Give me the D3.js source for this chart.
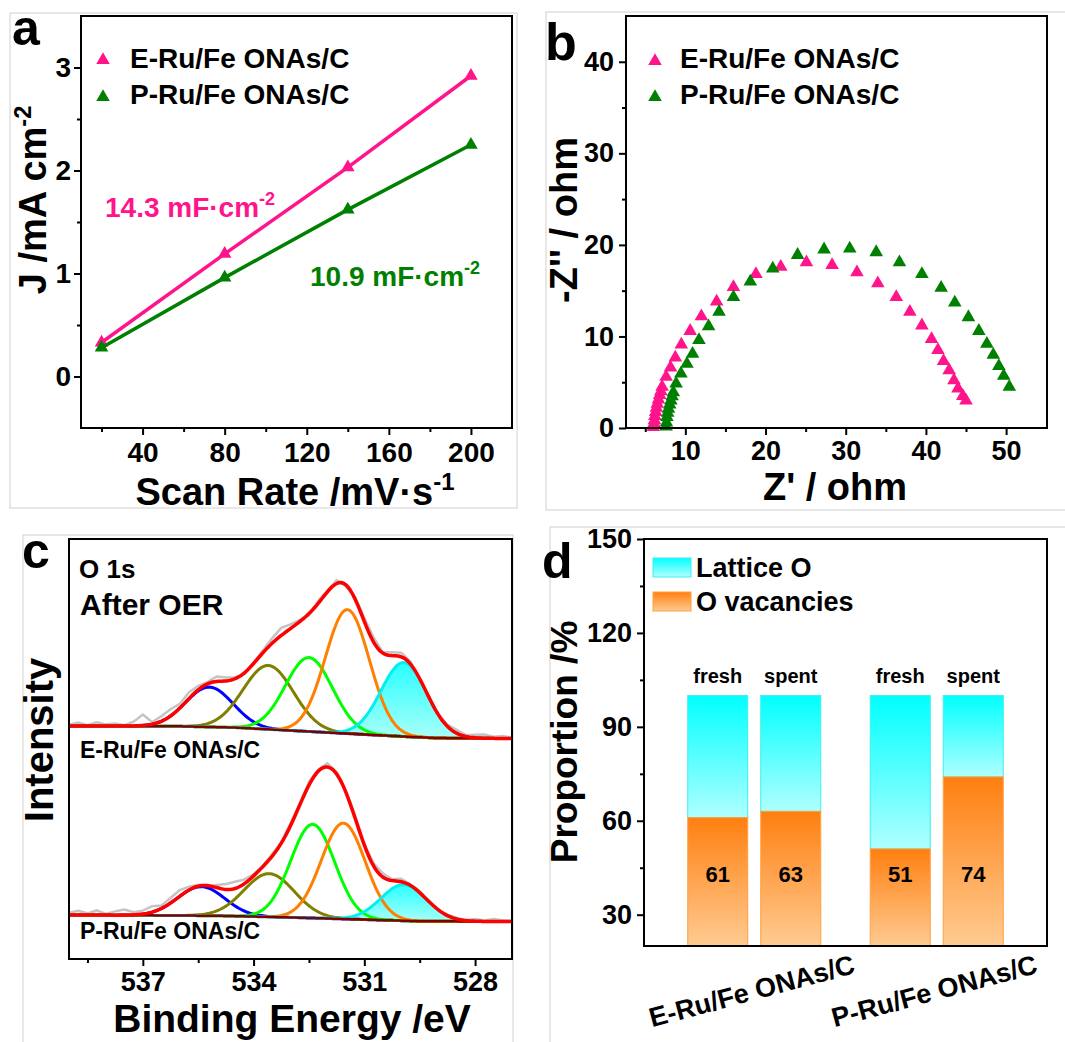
<!DOCTYPE html>
<html>
<head>
<meta charset="utf-8">
<script src="https://cdn.jsdelivr.net/npm/d3@7"></script>
<style>
  body { margin: 0; background: #fff; }
  svg text { font-family: "Liberation Sans", Arial, sans-serif; font-weight: bold; }
</style>
</head>
<body>
<svg id="fig" width="1065" height="1042"></svg>
<script>
// ---------- data ----------
var sampleNames = ["E-Ru/Fe ONAs/C", "P-Ru/Fe ONAs/C"];

// (a) current density vs scan rate
var scanRates = [20, 80, 140, 200];
var currentE = [0.33, 1.19, 2.03, 2.92];
var currentP = [0.28, 0.96, 1.62, 2.25];
var cdlValues = ["14.3", "10.9"];

// (b) Nyquist plots, [Z', -Z'']
var nyquistE = [[6.0,0.1],[6.1,0.5],[6.15,0.85],[6.2,1.3],[6.3,1.75],[6.4,2.2],[6.5,2.65],[6.65,3.1],
  [6.8,3.6],[6.95,4.0],[7.1,4.5],[7.6,5.6],[8.15,6.6],[8.75,7.7],[9.5,9.1],[10.6,10.6],[12.0,12.2],
  [13.9,13.8],[16.0,15.4],[18.8,16.8],[21.9,17.6],[25.1,18.1],[28.3,17.8],[31.4,17.0],[34.0,15.8],
  [36.3,14.3],[38.0,12.7],[39.5,11.2],[40.7,9.7],[41.5,8.5],[42.2,7.3],[42.9,6.3],[43.5,5.2],
  [44.0,4.3],[44.6,3.5],[45.0,3.0]];
var nyquistP = [[7.6,0.15],[7.65,0.6],[7.7,1.2],[7.8,1.65],[7.9,2.1],[8.05,2.55],[8.2,3.0],[8.35,3.45],
  [8.5,3.9],[8.85,4.85],[9.45,5.95],[10.2,7.0],[10.9,8.1],[11.7,9.6],[12.9,11.1],[14.2,12.7],
  [16.0,14.3],[18.1,16.0],[20.9,17.4],[24.0,18.9],[27.3,19.5],[30.5,19.6],[33.8,19.2],[36.7,18.1],
  [39.5,16.8],[41.9,15.3],[43.6,13.7],[45.3,12.1],[46.6,10.6],[47.6,9.2],[48.4,8.0],[49.1,6.75],
  [49.7,5.7],[50.4,4.5]];

// (c) O 1s fitted peaks: [centre eV, height, FWHM], order blue, olive, green, orange, cyan
var peaksE = [[535.2, 9.5, 1.5], [533.6, 15.2, 1.6], [532.5, 17.6, 1.5], [531.46, 29.5, 1.4], [529.93, 17.6, 1.45]];
var peaksP = [[535.42, 6.9, 1.5], [533.58, 10.3, 1.6], [532.4, 22.3, 1.4], [531.57, 22.8, 1.4], [529.93, 8.6, 1.45]];
var backgroundE = [[539,55.5],[536,55.4],[534.5,55.1],[533,54.4],[531.5,53.7],[530,53.0],[529,52.6],[527,52.5]];
var backgroundP = [[539,10.5],[535,10.3],[533,9.9],[531,9.4],[529.5,9.0],[527,8.9]];
// raw counts minus fit, every 0.25 eV from 539 down to 527
var residualE = [0.3,0.8,0.2,0.9,0.4,0.6,0.2,1.0,2.6,0.5,1.2,1.6,1.0,1.5,0.9,0.4,1.2,0.8,0.3,-0.3,0.2,0.6,1.2,1.8,1.0,
  0.4,-0.5,0.6,0.3,0.8,-0.4,0.5,0.9,1.1,0.2,0.8,1.0,0.6,-0.3,0.2,0.1,0.4,0.8,0.3,0.7,0.9,0.4,0.6,0.2];
var residualP = [0.5,1.0,0.4,1.1,0.3,0.9,1.3,0.6,0.8,1.4,0.7,1.2,1.5,0.8,0.3,-0.2,0.6,1.3,1.6,1.0,0.4,0.2,0.5,0.3,0.6,
  0.2,0.8,0.4,0.9,0.5,0.3,0.7,0.4,0.6,0.9,0.3,0.7,0.2,0.4,0.1,-0.1,0.2,0.3,0.1,0.5,0.2,0.6,0.3,0.2];
var peakColors = ["#0000ff", "#808000", "#00ff00", "#ff8000", "#00f0f0"];

// (d) oxygen species proportions
var states = ["fresh", "spent"];
var vacancyPct = [61, 63, 51, 74];
var latticePct = [39, 37, 49, 26];

var pink = "#ff148c", green = "#008000";
var svg = d3.select("#fig");

// gradients
var defs = svg.append("defs");
function grad(id, top, bottom) {
  var g = defs.append("linearGradient").attr("id", id).attr("x1", 0).attr("y1", 0).attr("x2", 0).attr("y2", 1);
  g.append("stop").attr("offset", "0%").attr("stop-color", top);
  g.append("stop").attr("offset", "100%").attr("stop-color", bottom);
}
grad("gOrange", "#ff7f10", "#ffcb92");
grad("gCyan", "#00ffff", "#b0ffff");
grad("gCyanFill", "#10ffff", "#9ffff8");

// light panel borders
[[10,13,507,495],[546,12,540,498],[23,535,490,520],[550,527,530,520]].forEach(function (r) {
  svg.append("rect").attr("x", r[0]).attr("y", r[1]).attr("width", r[2]).attr("height", r[3])
    .attr("fill", "none").attr("stroke", "#d0d0d0").attr("stroke-width", 1);
});

function styleAxis(g, fs) {
  g.select(".domain").remove();
  g.selectAll("line").attr("stroke", "#000").attr("stroke-width", 2);
  g.selectAll("text").attr("font-size", fs).attr("fill", "#000");
}
function frame(x0, y0, x1, y1) {
  svg.append("rect").attr("x", x0).attr("y", y0).attr("width", x1 - x0).attr("height", y1 - y0)
    .attr("fill", "none").attr("stroke", "#000").attr("stroke-width", 2);
}
function label(txt, x, y, fs, opts) {
  var t = svg.append("text").attr("x", x).attr("y", y).attr("font-size", fs).text(txt);
  if (opts && opts.anchor) t.attr("text-anchor", opts.anchor);
  if (opts && opts.fill) t.attr("fill", opts.fill);
  return t;
}
function rotLabel(txt, x, y, fs, sup) {
  var t = svg.append("text").attr("transform", "translate(" + x + "," + y + ") rotate(-90)")
    .attr("text-anchor", "middle").attr("font-size", fs).text(txt);
  if (sup) t.append("tspan").attr("font-size", fs * 0.62).attr("dy", -fs * 0.4).text(sup);
  return t;
}
var tri = d3.symbol().type(d3.symbolTriangle).size(80);
var intFmt = d3.format("d");

// ================= (a) =================
var ax = { l: 81, r: 512, t: 16, b: 428 };
var xA = d3.scaleLinear().domain([10, 220]).range([ax.l, ax.r]);
var yA = d3.scaleLinear().domain([-0.5, 3.5]).range([ax.b, ax.t]);

styleAxis(svg.append("g").attr("transform", "translate(0," + ax.b + ")")
  .call(d3.axisBottom(xA).tickValues([40, 80, 120, 160, 200]).tickSize(7).tickPadding(7)), 28);
styleAxis(svg.append("g").attr("transform", "translate(0," + ax.b + ")")
  .call(d3.axisBottom(xA).tickValues([20, 60, 100, 140, 180]).tickSize(4).tickFormat("")), 28);
styleAxis(svg.append("g").attr("transform", "translate(" + ax.l + ",0)")
  .call(d3.axisLeft(yA).tickValues([0, 1, 2, 3]).tickFormat(intFmt).tickSize(7).tickPadding(3)), 28);
styleAxis(svg.append("g").attr("transform", "translate(" + ax.l + ",0)")
  .call(d3.axisLeft(yA).tickValues([0.5, 1.5, 2.5]).tickSize(4).tickFormat("")), 28);

[[currentE, pink], [currentP, green]].forEach(function (s) {
  var pts = scanRates.map(function (v, i) { return [v, s[0][i]]; });
  svg.append("path").datum(pts)
    .attr("d", d3.line().x(function (d) { return xA(d[0]); }).y(function (d) { return yA(d[1]); }))
    .attr("fill", "none").attr("stroke", s[1]).attr("stroke-width", 3.5);
  svg.selectAll(null).data(pts).enter().append("path").attr("d", tri)
    .attr("transform", function (d) { return "translate(" + xA(d[0]) + "," + yA(d[1]) + ")"; })
    .attr("fill", s[1]);
});
frame(ax.l, ax.t, ax.r, ax.b);

[pink, green].forEach(function (c, i) {
  svg.append("path").attr("d", tri).attr("transform", "translate(103," + (60 + 37 * i) + ")").attr("fill", c);
  label(sampleNames[i], 130, 68 + 36 * i, 28);
});
var cd1 = label(cdlValues[0] + " mF\u00b7cm", 105, 217, 28, { fill: pink });
cd1.append("tspan").attr("font-size", 18).attr("dy", -12).text("-2");
var cd2 = label(cdlValues[1] + " mF\u00b7cm", 310, 286, 28, { fill: green });
cd2.append("tspan").attr("font-size", 18).attr("dy", -12).text("-2");

var xtA = label("Scan Rate /mV\u00b7s", 295, 505, 38, { anchor: "middle" });
xtA.append("tspan").attr("font-size", 24).attr("dy", -15).text("-1");
rotLabel("J /mA cm", 46, 200, 38, "-2");
label("a", 12, 45, 50);

// ================= (b) =================
var bx = { l: 626, r: 1047, t: 16, b: 428 };
var xB = d3.scaleLinear().domain([2.6, 55.1]).range([bx.l, bx.r]);
var yB = d3.scaleLinear().domain([0, 45]).range([bx.b, bx.t]);

styleAxis(svg.append("g").attr("transform", "translate(0," + bx.b + ")")
  .call(d3.axisBottom(xB).tickValues([10, 20, 30, 40, 50]).tickSize(7).tickPadding(6)), 27);
styleAxis(svg.append("g").attr("transform", "translate(0," + bx.b + ")")
  .call(d3.axisBottom(xB).tickValues([5, 15, 25, 35, 45]).tickSize(4).tickFormat("")), 27);
styleAxis(svg.append("g").attr("transform", "translate(" + bx.l + ",0)")
  .call(d3.axisLeft(yB).tickValues([0, 10, 20, 30, 40]).tickSize(7).tickPadding(5)), 27);
styleAxis(svg.append("g").attr("transform", "translate(" + bx.l + ",0)")
  .call(d3.axisLeft(yB).tickValues([5, 15, 25, 35]).tickSize(4).tickFormat("")), 27);

[[nyquistE, pink], [nyquistP, green]].forEach(function (s) {
  svg.selectAll(null).data(s[0]).enter().append("path").attr("d", tri)
    .attr("transform", function (d) { return "translate(" + xB(d[0]) + "," + yB(d[1]) + ")"; })
    .attr("fill", s[1]);
});
frame(bx.l, bx.t, bx.r, bx.b);

[pink, green].forEach(function (c, i) {
  svg.append("path").attr("d", tri).attr("transform", "translate(655," + (61 + 36 * i) + ")").attr("fill", c);
  label(sampleNames[i], 680, 68 + 36 * i, 28);
});
label("Z' / ohm", 835, 500, 38, { anchor: "middle" });
rotLabel("-Z'' / ohm", 577, 220, 38);
label("b", 545, 60, 52);

// ================= (c) =================
var cx = { l: 69, r: 512, t: 539, b: 959 };
var xC = d3.scaleLinear().domain([539, 527]).range([cx.l, cx.r]);
var yC = d3.scaleLinear().domain([0, 100]).range([cx.b, cx.t]);

styleAxis(svg.append("g").attr("transform", "translate(0," + cx.b + ")")
  .call(d3.axisBottom(xC).tickValues([537, 534, 531, 528]).tickSize(7).tickPadding(6)), 27);
styleAxis(svg.append("g").attr("transform", "translate(0," + cx.b + ")")
  .call(d3.axisBottom(xC).tickValues([538.5, 535.5, 532.5, 529.5]).tickSize(4).tickFormat("")), 27);

function gauss(p, e) { return p[1] * Math.exp(-4 * Math.LN2 * (e - p[0]) * (e - p[0]) / (p[2] * p[2])); }
var fine = d3.range(0, 241).map(function (i) { return 539 - i * 0.05; });
var coarse = d3.range(0, 49).map(function (i) { return 539 - i * 0.25; });

function drawSpectrum(peaks, background, residual) {
  var bg = d3.scaleLinear().domain(background.map(function (d) { return d[0]; }))
    .range(background.map(function (d) { return d[1]; }));
  var fit = function (e) { return bg(e) + d3.sum(peaks, function (p) { return gauss(p, e); }); };
  var line = d3.line().curve(d3.curveLinear);

  // raw data
  svg.append("path").datum(coarse.map(function (e, i) { return [xC(e), yC(fit(e) + residual[i])]; }))
    .attr("d", line).attr("fill", "none").attr("stroke", "#c4c4c4").attr("stroke-width", 2.5);
  // lattice O component filled
  var cyanPk = peaks[4];
  svg.append("path").datum(fine)
    .attr("d", d3.area().x(function (e) { return xC(e); })
      .y0(function (e) { return yC(bg(e)); })
      .y1(function (e) { return yC(bg(e) + gauss(cyanPk, e)); }))
    .attr("fill", "url(#gCyanFill)").attr("opacity", 0.9);
  peaks.forEach(function (p, k) {
    svg.append("path").datum(fine.map(function (e) { return [xC(e), yC(bg(e) + gauss(p, e))]; }))
      .attr("d", line).attr("fill", "none").attr("stroke", peakColors[k]).attr("stroke-width", 3);
  });
  svg.append("path").datum(fine.map(function (e) { return [xC(e), yC(bg(e))]; }))
    .attr("d", line).attr("fill", "none").attr("stroke", "#800000").attr("stroke-width", 2.5);
  svg.append("path").datum(fine.map(function (e) { return [xC(e), yC(fit(e))]; }))
    .attr("d", line).attr("fill", "none").attr("stroke", "#ff0000").attr("stroke-width", 3.5);
}
drawSpectrum(peaksE, backgroundE, residualE);
drawSpectrum(peaksP, backgroundP, residualP);
frame(cx.l, cx.t, cx.r, cx.b);

label("O 1s", 79, 578, 26);
label("After OER", 80, 615, 30);
label(sampleNames[0], 80, 758, 23);
label(sampleNames[1], 80, 939, 23);
label("Binding Energy /eV", 292, 1032, 39, { anchor: "middle" });
rotLabel("Intensity", 53, 740, 40);
label("c", 22, 568, 50);

// ================= (d) =================
var dx = { l: 644, r: 1047, t: 539, b: 946 };
var yD = d3.scaleLinear().domain([20, 150]).range([dx.b, dx.t]);
var xGroup = d3.scaleBand().domain(sampleNames).range([dx.l, dx.r]).paddingInner(0.1).paddingOuter(0.154);
var xState = d3.scaleBand().domain(states).range([0, xGroup.bandwidth()]).paddingInner(0.178).paddingOuter(0.214);

styleAxis(svg.append("g").attr("transform", "translate(" + dx.l + ",0)")
  .call(d3.axisLeft(yD).tickValues([30, 60, 90, 120, 150]).tickSize(7).tickPadding(5)), 27);
styleAxis(svg.append("g").attr("transform", "translate(" + dx.l + ",0)")
  .call(d3.axisLeft(yD).tickValues([45, 75, 105, 135]).tickSize(4).tickFormat("")), 27);

var bars = [];
sampleNames.forEach(function (g, gi) {
  states.forEach(function (s, si) {
    var k = gi * 2 + si;
    bars.push({ group: g, state: s, vac: vacancyPct[k], lat: latticePct[k] });
  });
});
bars.forEach(function (d) {
  var x0 = xGroup(d.group) + xState(d.state), w = xState.bandwidth();
  svg.append("rect").attr("x", x0).attr("width", w)
    .attr("y", yD(d.vac + d.lat)).attr("height", yD(d.vac) - yD(d.vac + d.lat))
    .attr("fill", "url(#gCyan)").attr("stroke", "#40eeee").attr("stroke-width", 1);
  svg.append("rect").attr("x", x0).attr("width", w)
    .attr("y", yD(d.vac)).attr("height", yD(20) - yD(d.vac))
    .attr("fill", "url(#gOrange)").attr("stroke", "#ffa040").attr("stroke-width", 1);
  label(d.state, x0 + w / 2, yD(d.vac + d.lat) - 13, 20, { anchor: "middle" });
  label(d.vac, x0 + w / 2, yD(43) + 8, 22, { anchor: "middle" });
});
frame(dx.l, dx.t, dx.r, dx.b);

sampleNames.forEach(function (g) {
  svg.append("text").attr("transform", "translate(" + (xGroup(g) + xGroup.bandwidth() / 2) + ",1000) rotate(-15)")
    .attr("text-anchor", "middle").attr("font-size", 27).text(g);
});
[["url(#gCyan)", "#40eeee", "Lattice O"], ["url(#gOrange)", "#ffa040", "O vacancies"]].forEach(function (l, i) {
  svg.append("rect").attr("x", 653).attr("y", 558 + 34 * i).attr("width", 38).attr("height", 19)
    .attr("fill", l[0]).attr("stroke", l[1]).attr("stroke-width", 1);
  label(l[2], 696, 577 + 34 * i, 27);
});
rotLabel("Proportion /%", 577, 742, 37);
label("d", 542, 578, 50);
</script>
</body>
</html>
